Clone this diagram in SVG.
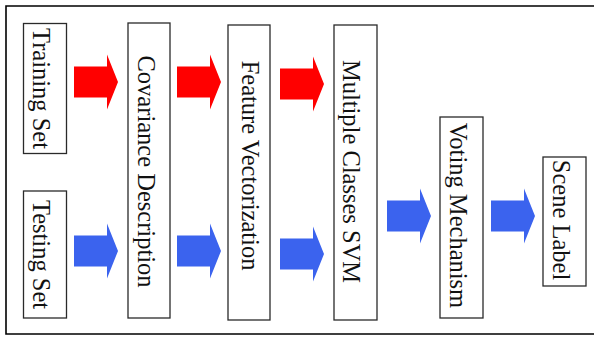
<svg xmlns="http://www.w3.org/2000/svg" width="594" height="337" viewBox="0 0 594 337">
<style>
.box{fill:#fff;stroke:#2a2a2a;stroke-width:1.3}
.lbl{font-family:"Liberation Serif","Times New Roman",serif;font-size:24.5px;fill:#111;text-anchor:middle}
.red{fill:#ff0000}
.blue{fill:#3b63ee}
</style>
<defs>
<path id="arr" d="M0,-15.5 H33 V-27.5 L44,0 L33,27.5 V15.5 H0 Z"/>
</defs>
<rect x="0" y="0" width="594" height="337" fill="#fff"/>
<path d="M594,6 H6 V334 H594" fill="none" stroke="#000" stroke-width="1.6"/>
<g id="connectors">
<use href="#arr" class="red" transform="translate(74,82)"/>
<use href="#arr" class="red" transform="translate(177,82)"/>
<use href="#arr" class="red" transform="translate(280,84)"/>
<use href="#arr" class="blue" transform="translate(74,251)"/>
<use href="#arr" class="blue" transform="translate(177,251)"/>
<use href="#arr" class="blue" transform="translate(280,254)"/>
<use href="#arr" class="blue" transform="translate(387,216)"/>
<use href="#arr" class="blue" transform="translate(491,216)"/>
</g>
<g id="training">
<rect class="box" x="23.5" y="23.5" width="43" height="130"/>
<text class="lbl" transform="translate(45,88.5) rotate(90)" x="0" y="12">Training Set</text>
</g>
<g id="testing">
<rect class="box" x="23.5" y="191" width="43" height="127"/>
<text class="lbl" transform="translate(45,254.5) rotate(90)" x="0" y="12">Testing Set</text>
</g>
<g id="covariance">
<rect class="box" x="128" y="23" width="42" height="295"/>
<text class="lbl" transform="translate(149,171.5) rotate(90)" x="0" y="11.5">Covariance Description</text>
</g>
<g id="feature">
<rect class="box" x="228" y="25" width="42" height="295"/>
<text class="lbl" transform="translate(249,165.5) rotate(90)" x="0" y="7.5">Feature Vectorization</text>
</g>
<g id="svm">
<rect class="box" x="334" y="25" width="43" height="295"/>
<text class="lbl" transform="translate(355.5,171.5) rotate(90)" x="0" y="12.5">Multiple Classes SVM</text>
</g>
<g id="voting">
<rect class="box" x="440" y="117" width="43" height="201"/>
<text class="lbl" transform="translate(461.5,215.5) rotate(90)" x="0" y="11.5">Voting Mechanism</text>
</g>
<g id="scene">
<rect class="box" x="543" y="157" width="43" height="129"/>
<text class="lbl" transform="translate(564.5,220) rotate(90)" x="0" y="12">Scene Label</text>
</g>
</svg>
